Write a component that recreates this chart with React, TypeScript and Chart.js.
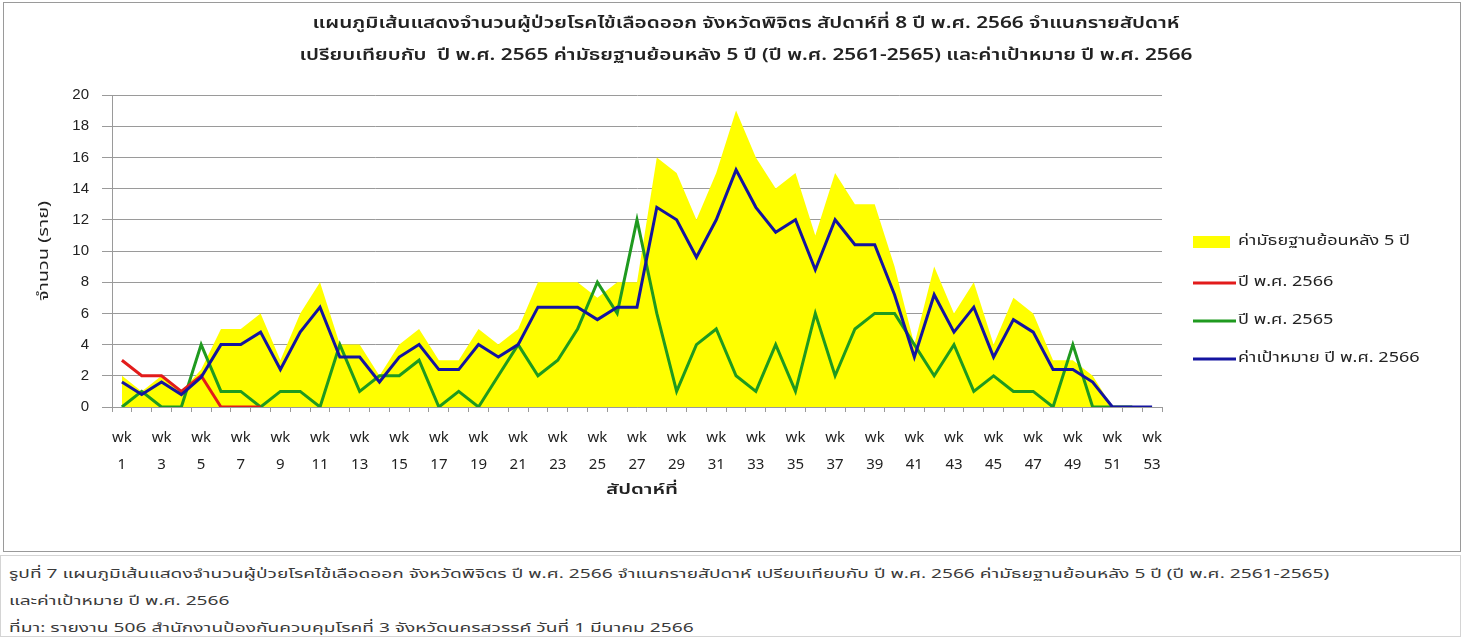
import React, { useEffect, useRef } from "react";
import { Chart, registerables } from "chart.js";

Chart.register(...registerables);

const weekNumbers = [
  1, 2, 3, 4, 5, 6, 7, 8, 9, 10, 11, 12, 13, 14, 15, 16, 17, 18, 19, 20,
  21, 22, 23, 24, 25, 26, 27, 28, 29, 30, 31, 32, 33, 34, 35, 36, 37, 38, 39, 40,
  41, 42, 43, 44, 45, 46, 47, 48, 49, 50, 51, 52, 53,
];

const medianPast5 = [
  2, 1, 2, 1, 2.4, 5, 5, 6, 3, 6, 8, 4, 4, 2, 4, 5, 3, 3, 5, 4,
  5, 8, 8, 8, 7, 8, 8, 16, 15, 12, 15, 19, 16, 14, 15, 11, 15, 13, 13, 9,
  4, 9, 6, 8, 4, 7, 6, 3, 3, 2, 0, 0, 0,
];

const cases2566 = [3, 2, 2, 1, 2, 0, 0, 0];

const cases2565 = [
  0, 1, 0, 0, 4, 1, 1, 0, 1, 1, 0, 4, 1, 2, 2, 3, 0, 1, 0, 2,
  4, 2, 3, 5, 8, 6, 12, 6, 1, 4, 5, 2, 1, 4, 1, 6, 2, 5, 6, 6,
  4, 2, 4, 1, 2, 1, 1, 0, 4, 0, 0, 0,
];

const target2566 = [
  1.6, 0.8, 1.6, 0.8, 1.9, 4, 4, 4.8, 2.4, 4.8, 6.4, 3.2, 3.2, 1.6, 3.2, 4, 2.4, 2.4, 4, 3.2,
  4, 6.4, 6.4, 6.4, 5.6, 6.4, 6.4, 12.8, 12, 9.6, 12, 15.2, 12.8, 11.2, 12, 8.8, 12, 10.4, 10.4, 7.2,
  3.2, 7.2, 4.8, 6.4, 3.2, 5.6, 4.8, 2.4, 2.4, 1.6, 0, 0, 0,
];

const seriesNames = [
  "ค่ามัธยฐานย้อนหลัง 5 ปี",
  "ปี พ.ศ. 2566",
  "ปี พ.ศ. 2565",
  "ค่าเป้าหมาย ปี พ.ศ. 2566",
];

const titleLines = [
  "แผนภูมิเส้นแสดงจำนวนผู้ป่วยโรคไข้เลือดออก จังหวัดพิจิตร สัปดาห์ที่ 8 ปี พ.ศ. 2566 จำแนกรายสัปดาห์",
  "เปรียบเทียบกับ  ปี พ.ศ. 2565 ค่ามัธยฐานย้อนหลัง 5 ปี (ปี พ.ศ. 2561-2565) และค่าเป้าหมาย ปี พ.ศ. 2566",
];
const yAxisTitle = "จำนวน (ราย)";
const xAxisTitle = "สัปดาห์ที่";
const tickPrefix = "wk";

const captionLines = [
  "รูปที่ 7 แผนภูมิเส้นแสดงจำนวนผู้ป่วยโรคไข้เลือดออก จังหวัดพิจิตร ปี พ.ศ. 2566 จำแนกรายสัปดาห์ เปรียบเทียบกับ ปี พ.ศ. 2566 ค่ามัธยฐานย้อนหลัง 5 ปี (ปี พ.ศ. 2561-2565)",
  "และค่าเป้าหมาย ปี พ.ศ. 2566",
  "ที่มา: รายงาน 506 สำนักงานป้องกันควบคุมโรคที่ 3 จังหวัดนครสวรรค์ วันที่ 1 มีนาคม 2566",
];

const COLORS = ["#ffff00", "#e21b1b", "#1f9a1f", "#1414a0"];
const FONT = "Tahoma, 'Noto Sans Thai', 'Liberation Sans', 'Noto Sans', sans-serif";
const CANVAS_W = 1469;
const CANVAS_H = 553;
const AREA = { left: 112, right: 1162, top: 95, bottom: 407 };

function drawStretched(
  ctx: CanvasRenderingContext2D,
  text: string,
  x: number,
  y: number,
  sx: number,
  align: CanvasTextAlign
) {
  ctx.save();
  ctx.translate(x, y);
  ctx.scale(sx, 1);
  ctx.textAlign = align;
  ctx.fillText(text, 0, 0);
  ctx.restore();
}

const decorPlugin = {
  id: "decor",
  afterDraw(chart: any) {
    const ctx = chart.ctx as CanvasRenderingContext2D;
    const ca = chart.chartArea;
    ctx.save();
    // outer frame
    ctx.strokeStyle = "#9a9a9a";
    ctx.lineWidth = 1;
    ctx.strokeRect(3.5, 2.5, 1457, CANVAS_H - 4);
    // title
    ctx.fillStyle = "#222";
    ctx.textBaseline = "middle";
    ctx.font = `600 16px ${FONT}`;
    const tw = ctx.measureText(titleLines[0]).width;
    const tsx = 867 / tw;
    drawStretched(ctx, titleLines[0], 746, 25, tsx, "center");
    drawStretched(ctx, titleLines[1], 746, 57, tsx, "center");
    // y title
    ctx.font = `14px ${FONT}`;
    const yw = ctx.measureText(yAxisTitle).width;
    ctx.save();
    ctx.translate(45, (ca.top + ca.bottom) / 2);
    ctx.rotate(-Math.PI / 2);
    drawStretched(ctx, yAxisTitle, 0, 0, 100 / yw, "center");
    ctx.restore();
    // x title
    ctx.font = `600 14px ${FONT}`;
    const xw = ctx.measureText(xAxisTitle).width;
    drawStretched(ctx, xAxisTitle, 642, 491, 72 / xw, "center");
    // legend
    const rows = [242, 283, 321, 359];
    ctx.font = `14px ${FONT}`;
    const lw = ctx.measureText(seriesNames[0]).width;
    const lsx = 172 / lw;
    chart.data.datasets.forEach((ds: any, i: number) => {
      const y = rows[i];
      if (i === 0) {
        ctx.fillStyle = ds.backgroundColor;
        ctx.fillRect(1193, y - 6, 37, 12);
      } else {
        ctx.strokeStyle = ds.borderColor;
        ctx.lineWidth = 3;
        ctx.beginPath();
        ctx.moveTo(1193, y);
        ctx.lineTo(1236, y);
        ctx.stroke();
      }
      ctx.fillStyle = "#222";
      drawStretched(ctx, ds.label, 1238, y, lsx, "left");
    });
    ctx.restore();
  },
};

export default function App() {
  const canvasRef = useRef<HTMLCanvasElement | null>(null);
  const captionRef = useRef<HTMLDivElement | null>(null);

  useEffect(() => {
    document.body.style.margin = "0";
    const cap = captionRef.current;
    if (cap) {
      const spans = Array.from(cap.querySelectorAll("span")) as HTMLSpanElement[];
      if (spans.length) {
        const w = spans[0].offsetWidth || 1;
        const k = 1321 / w;
        spans.forEach((s) => {
          s.style.transform = `scaleX(${k})`;
          s.style.transformOrigin = "left center";
        });
      }
    }
    const canvas = canvasRef.current;
    if (!canvas) return;
    const chart = new Chart(canvas, {
      type: "line",
      data: {
        labels: weekNumbers.map((n) => [tickPrefix, String(n)]),
        datasets: [
          {
            label: seriesNames[0],
            data: medianPast5,
            backgroundColor: COLORS[0],
            borderColor: COLORS[0],
            borderWidth: 0,
            fill: "origin",
            pointRadius: 0,
            order: 4,
          },
          {
            label: seriesNames[1],
            data: cases2566,
            borderColor: COLORS[1],
            backgroundColor: COLORS[1],
            borderWidth: 3,
            pointRadius: 0,
            fill: false,
            order: 2,
          },
          {
            label: seriesNames[2],
            data: cases2565,
            borderColor: COLORS[2],
            backgroundColor: COLORS[2],
            borderWidth: 3,
            pointRadius: 0,
            fill: false,
            order: 3,
          },
          {
            label: seriesNames[3],
            data: target2566,
            borderColor: COLORS[3],
            backgroundColor: COLORS[3],
            borderWidth: 3,
            pointRadius: 0,
            fill: false,
            order: 1,
          },
        ],
      },
      options: {
        responsive: false,
        animation: false,
        devicePixelRatio: 1,
        layout: {
          padding: { left: 0, top: AREA.top, right: CANVAS_W - AREA.right, bottom: 0 },
        },
        elements: { line: { tension: 0 } },
        plugins: {
          legend: { display: false },
          title: { display: false },
          tooltip: { enabled: false },
        },
        scales: {
          x: {
            offset: true,
            afterFit: (scale: any) => {
              scale.height = CANVAS_H - AREA.bottom;
            },
            grid: {
              offset: true,
              drawOnChartArea: false,
              drawTicks: true,
              tickLength: 5,
              color: "#9a9a9a",
            },
            border: { color: "#9a9a9a" },
            ticks: {
              autoSkip: false,
              maxRotation: 0,
              minRotation: 0,
              padding: 13,
              color: "#222",
              font: { family: FONT, size: 15, lineHeight: 1.8 },
              callback: (_v: any, idx: number) =>
                idx % 2 === 0 ? [tickPrefix, String(weekNumbers[idx])] : "",
            },
          },
          y: {
            min: 0,
            max: 20,
            afterFit: (scale: any) => {
              scale.width = AREA.left;
            },
            grid: { color: "#9a9a9a", tickLength: 10, lineWidth: 1 },
            border: { color: "#9a9a9a" },
            ticks: {
              stepSize: 2,
              padding: 13,
              color: "#222",
              font: { family: "'Liberation Sans', Arial, sans-serif", size: 15 },
            },
          },
        },
      },
      plugins: [decorPlugin],
    });
    return () => chart.destroy();
  }, []);

  return (
    <div style={{ position: "relative", width: CANVAS_W, height: 637, fontFamily: FONT }}>
      <canvas
        ref={canvasRef}
        width={CANVAS_W}
        height={CANVAS_H}
        style={{ display: "block", width: CANVAS_W, height: CANVAS_H }}
      />
      <div
        ref={captionRef}
        style={{
          position: "absolute",
          left: 0,
          top: 555,
          width: 1461,
          height: 82,
          border: "1px solid #d4d4d4",
          boxSizing: "border-box",
          padding: "5px 0 0 8px",
          fontSize: 13,
          lineHeight: "27px",
          color: "#3a3a3a",
        }}
      >
        {captionLines.map((t, i) => (
          <div key={i} style={{ whiteSpace: "nowrap", height: 27 }}>
            <span style={{ display: "inline-block" }}>{t}</span>
          </div>
        ))}
      </div>
    </div>
  );
}
